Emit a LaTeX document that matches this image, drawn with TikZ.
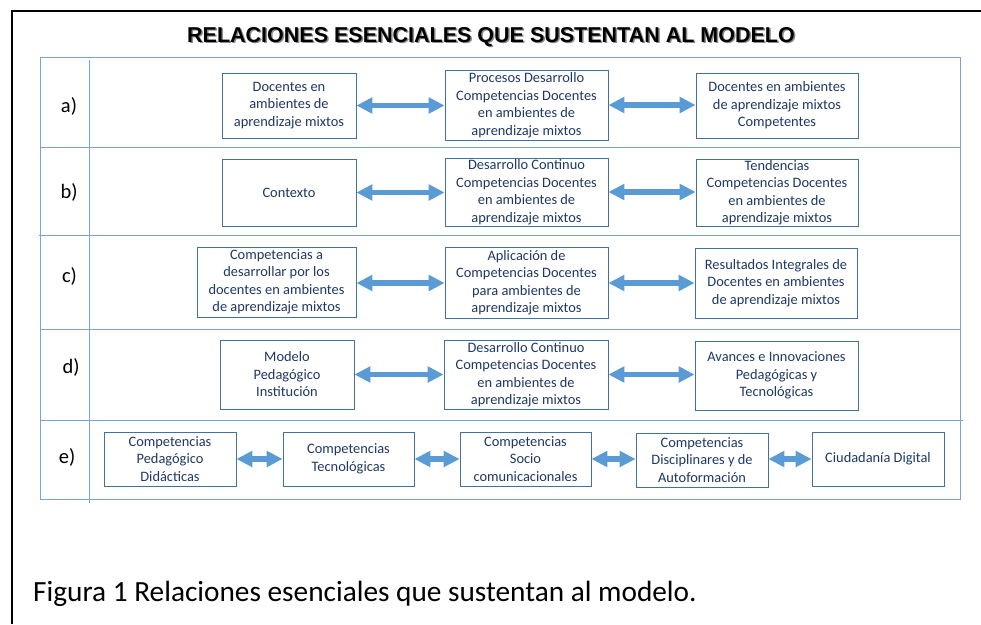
\documentclass[tikz,border=0pt]{standalone}
\usepackage{fontspec}
\setmainfont{Carlito}
\newfontfamily\titlefont{Liberation Sans}
\usetikzlibrary{arrows.meta}
\definecolor{txtblue}{RGB}{31,56,100}
\definecolor{boxline}{RGB}{65,113,156}
\definecolor{arrblue}{RGB}{91,155,213}
\definecolor{tabline}{RGB}{120,165,214}
\tikzset{
  cell/.style={draw=boxline, line width=0.9pt, fill=white, text=txtblue, align=center,
    inner sep=0pt, font=\fontsize{14.4}{17.5}\selectfont},
  dbl/.style={draw=arrblue, line width=5.5pt,
    {Triangle[length=16pt,width=15.5pt]}-{Triangle[length=16pt,width=15.5pt]}, shorten <=0pt, shorten >=0pt},
  rowlabel/.style={font=\fontsize{20.5}{24}\selectfont, text=black, inner sep=0pt},
  tab/.style={draw=tabline, line width=0.9pt}
}
\begin{document}
\begin{tikzpicture}[x=1pt,y=-1pt]
\useasboundingbox (0,0) rectangle (981,624);
% outer frame
\draw[black, line width=2pt] (11.5,624) -- (11.5,10.5) -- (981,10.5);
% title
\node[font=\titlefont\bfseries\fontsize{21.5}{24}\selectfont, text=black!45, inner sep=0pt] (titleshadow) at (492.5,38.5) {RELACIONES ESENCIALES QUE SUSTENTAN AL MODELO};
\node[font=\titlefont\bfseries\fontsize{21.5}{24}\selectfont, text=black, inner sep=0pt] (title) at (491,37) {RELACIONES ESENCIALES QUE SUSTENTAN AL MODELO};
% table
\draw[tab] (40.5,57) rectangle (960,499);
\draw[tab] (40.5,147.5) -- (960,147.5);
\draw[tab] (39,235.5) -- (960,235.5);
\draw[tab] (39.5,329) -- (960,329);
\draw[tab] (40.5,420.5) -- (963,420.5);
\draw[tab] (89,60) -- (89,503);
% row labels
\node[rowlabel] (la) at (69,106) {a)};
\node[rowlabel] (lb) at (69,192.5) {b)};
\node[rowlabel] (lc) at (69.5,276) {c)};
\node[rowlabel] (ld) at (71,367) {d)};
\node[rowlabel] (le) at (67,457) {e)};
% row a
\node[cell, minimum width=134pt, minimum height=65pt] (a1) at (289,105.5) {Docentes en\\ambientes de\\aprendizaje mixtos};
\node[cell, minimum width=163pt, minimum height=70pt] (a2) at (526.5,105) {Procesos Desarrollo\\Competencias Docentes\\en ambientes de\\aprendizaje mixtos};
\node[cell, minimum width=162pt, minimum height=65pt] (a3) at (777,105.5) {Docentes en ambientes\\de aprendizaje mixtos\\Competentes};
% row b
\node[cell, minimum width=134pt, minimum height=67pt] (b1) at (289,192.5) {Contexto};
\node[cell, minimum width=163pt, minimum height=68pt] (b2) at (526.5,192) {Desarrollo Continuo\\Competencias Docentes\\en ambientes de\\aprendizaje mixtos};
\node[cell, minimum width=162pt, minimum height=67pt] (b3) at (777,192.5) {Tendencias\\Competencias Docentes\\en ambientes de\\aprendizaje mixtos};
% row c
\node[cell, minimum width=159pt, minimum height=70pt] (c1) at (276.5,282) {Competencias a\\desarrollar por los\\docentes en ambientes\\de aprendizaje mixtos};
\node[cell, minimum width=163pt, minimum height=71pt] (c2) at (526.5,282.5) {Aplicación de\\Competencias Docentes\\para ambientes de\\aprendizaje mixtos};
\node[cell, minimum width=162pt, minimum height=70pt] (c3) at (776,283) {Resultados Integrales de\\Docentes en ambientes\\de aprendizaje mixtos};
% row d
\node[cell, minimum width=134pt, minimum height=69pt] (d1) at (287,374.5) {Modelo\\Pedagógico\\Institución};
\node[cell, minimum width=164pt, minimum height=69pt] (d2) at (526,374.5) {Desarrollo Continuo\\Competencias Docentes\\en ambientes de\\aprendizaje mixtos};
\node[cell, minimum width=163pt, minimum height=69pt] (d3) at (776.5,375.5) {Avances e Innovaciones\\Pedagógicas y\\Tecnológicas};
% row e
\node[cell, minimum width=132pt, minimum height=54pt] (e1) at (170,459) {Competencias\\Pedagógico\\Didácticas};
\node[cell, minimum width=131pt, minimum height=54pt] (e2) at (348.5,459) {Competencias\\Tecnológicas};
\node[cell, minimum width=131pt, minimum height=54pt] (e3) at (525.5,459) {Competencias\\Socio\\comunicacionales};
\node[cell, minimum width=132pt, minimum height=54pt] (e4) at (702,460) {Competencias\\Disciplinares y de\\Autoformación};
\node[cell, minimum width=132pt, minimum height=54pt] (e5) at (878,459) {Ciudadanía Digital};
% arrows
\draw[dbl] (a1.east) -- (a1.east -| a2.west);
\draw[dbl] (a2.east) -- (a2.east -| a3.west);
\draw[dbl] (b1.east) -- (b1.east -| b2.west);
\draw[dbl] (b2.east) -- (b2.east -| b3.west);
\draw[dbl] (c2.west |- 0,283) coordinate (cm) (c1.east |- cm) -- (cm);
\draw[dbl] (c2.east |- cm) -- (c3.west |- cm);
\draw[dbl] (d1.east) -- (d1.east -| d2.west);
\draw[dbl] (d2.east) -- (d2.east -| d3.west);
\draw[dbl] (e1.east) -- (e1.east -| e2.west);
\draw[dbl] (e2.east) -- (e2.east -| e3.west);
\draw[dbl] (e3.east) -- (e3.east -| e4.west);
\draw[dbl] (e4.west |- e3.east) coordinate (em) (e4.east |- em) -- (em -| e5.west);
% caption
\node[anchor=base west, inner sep=0pt, font=\fontsize{29.3}{34}\selectfont, text=black] (caption) at (33,601) {Figura 1 Relaciones esenciales que sustentan al modelo.};
\end{tikzpicture}
\end{document}
